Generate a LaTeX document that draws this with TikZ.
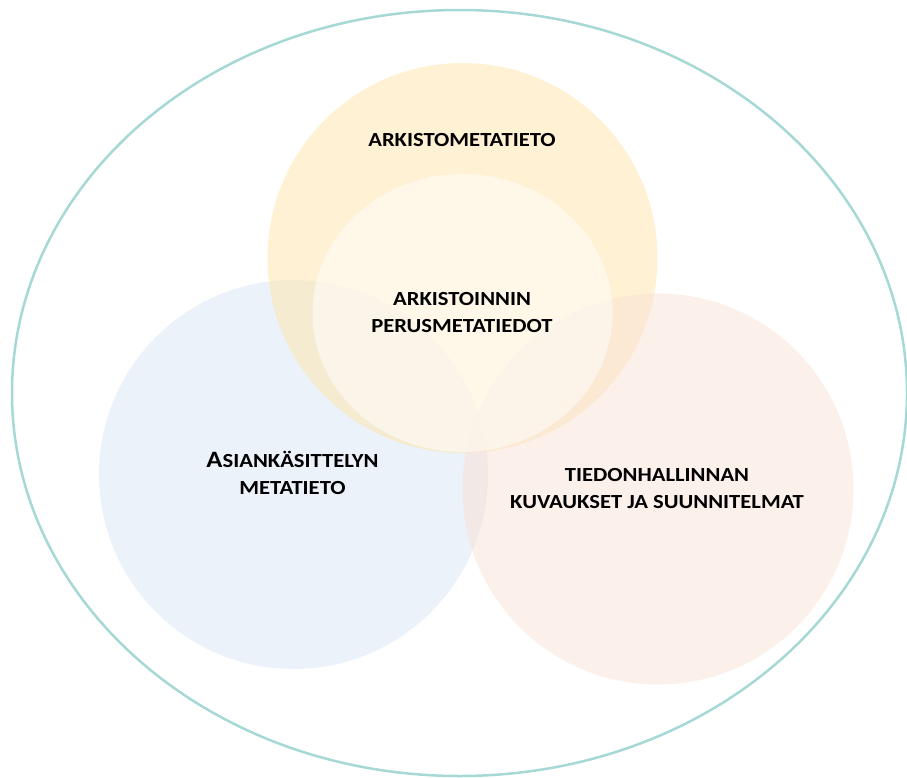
\documentclass[tikz,border=0pt]{standalone}
\usepackage{fontspec}
\setmainfont{Carlito}[FakeStretch=1.13]
\definecolor{outerline}{HTML}{A6D9D5}
\definecolor{ycol}{HTML}{FFE5A9}
\definecolor{bcol}{HTML}{D9E7F7}
\definecolor{pcol}{HTML}{FAE2D6}
\tikzset{
  lbl/.style={align=center, font=\fontsize{20}{27}\selectfont\bfseries, text=black, inner sep=0pt},
  venn/.style={fill opacity=0.5}
}
\begin{document}
\begin{tikzpicture}[x=1pt,y=-1pt]
\useasboundingbox (0,0) rectangle (907,777);
\fill[white] (0,0) rectangle (907,777);
% circles
\fill[bcol, venn] (293.5,474.5) circle[radius=194.5];
\fill[ycol, venn] (462.5,258) circle[radius=195];
\fill[pcol, venn] (658,489) circle[radius=195.5];
\fill[white, fill opacity=0.5] (462.5,313) ellipse[x radius=150, y radius=139];
% outer
\draw[outerline, line width=2.5pt] (459.5,393) ellipse[x radius=447.5, y radius=383];
% labels
\node[lbl] (arkisto) at (462,140) {ARKISTOMETATIETO};
\node[lbl] (perus) at (462,312.5) {ARKISTOINNIN\\PERUSMETATIEDOT};
\node[lbl] (asian) at (292.5,473) {{\fontsize{23.5}{27}\selectfont A}SIANKÄSITTELYN\\METATIETO};
\node[lbl] (tiedon) at (657,488.5) {TIEDONHALLINNAN\\KUVAUKSET JA SUUNNITELMAT};
\end{tikzpicture}
\end{document}
